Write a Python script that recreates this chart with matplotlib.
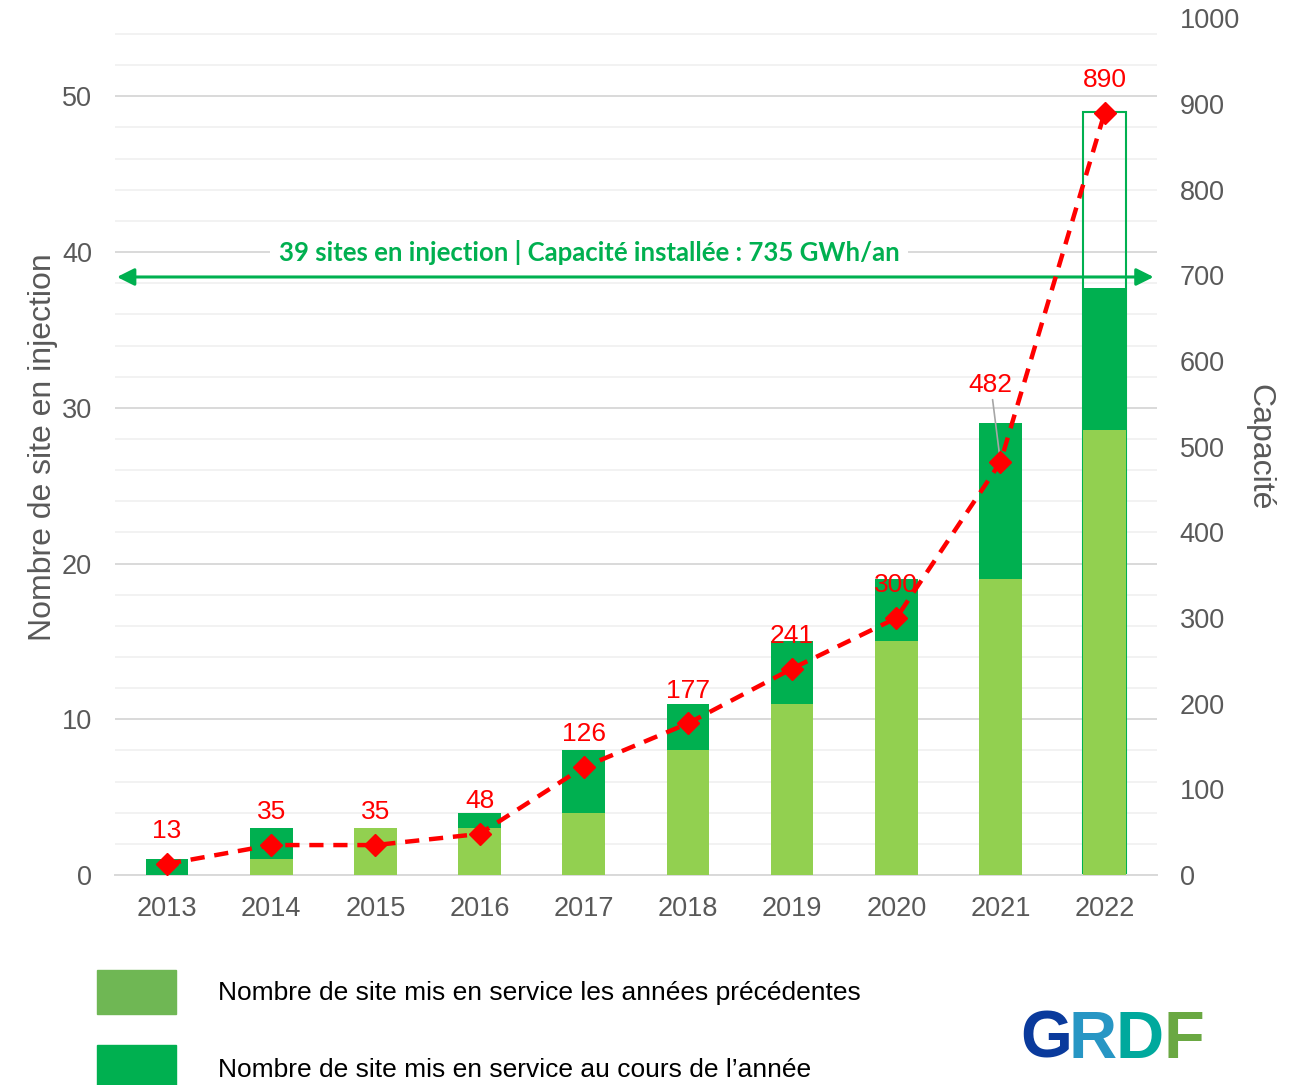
import matplotlib
matplotlib.use("Agg")
import matplotlib.pyplot as plt
import numpy as np
from matplotlib.patches import Rectangle

years = ["2013", "2014", "2015", "2016", "2017", "2018", "2019", "2020", "2021", "2022"]
prev_sites = [0, 1, 3, 3, 4, 8, 11, 15, 19, 28.6]
new_sites = [1, 2, 0, 1, 4, 3, 4, 4, 10, 9.1]
planned_2022 = 49
capacity = [13, 35, 35, 48, 126, 177, 241, 300, 482, 890]

light_green = "#92D050"
dark_green = "#00B050"
grey_txt = "#595959"

plt.rcParams["font.family"] = ["Liberation Sans", "DejaVu Sans"]

fig = plt.figure(figsize=(12.91, 10.85), dpi=100)
ax = fig.add_axes([0.089, 0.1935, 0.807, 0.7895])
x = np.arange(len(years))
w = 0.41

# planned total for the last year, drawn as an empty box
ax.bar(x[-1], planned_2022, w, facecolor="none", edgecolor=dark_green, linewidth=1.5, zorder=2)
ax.bar(x, prev_sites, w, color=light_green, zorder=3)
ax.bar(x, new_sites, w, bottom=prev_sites, color=dark_green, zorder=3)

ax.set_xlim(-0.5, 9.5)
ax.set_ylim(0, 55)
ax.set_yticks(range(0, 51, 10))
ax.set_yticks(range(0, 55, 2), minor=True)
ax.grid(axis="y", which="minor", color="#F0F0F0", linewidth=1.2, zorder=0)
ax.grid(axis="y", which="major", color="#D9D9D9", linewidth=1.4, zorder=0)
ax.set_axisbelow(True)
ax.set_xticks(x)
ax.set_xticklabels(years)
ax.tick_params(axis="both", which="both", length=0, labelsize=19.5, labelcolor=grey_txt)
ax.tick_params(axis="y", pad=16.5)
ax.tick_params(axis="x", pad=15)
for s in ["top", "left", "right"]:
    ax.spines[s].set_visible(False)
ax.spines["bottom"].set_color("#D9D9D9")
ax.spines["bottom"].set_linewidth(1.4)
ax.set_ylabel("Nombre de site en injection", fontsize=23, color=grey_txt, labelpad=3)

# capacity line on the right axis
ax2 = ax.twinx()
ax2.set_ylim(0, 1000)
ax2.set_yticks(range(0, 1001, 100))
ax2.tick_params(axis="y", length=0, labelsize=19.5, labelcolor=grey_txt, pad=16.5)
for s in ax2.spines.values():
    s.set_visible(False)
ax2.plot(x, capacity, color="red", linestyle=(0, (3.2, 2.2)), linewidth=3.2,
         marker="D", markersize=11, markerfacecolor="red", markeredgecolor="red", zorder=5)
ax2.set_ylabel("Capacité", fontsize=23, color=grey_txt, rotation=270, labelpad=25)

for i, v in enumerate(capacity):
    if years[i] == "2021":
        ax2.annotate(str(v), (x[i], v), xytext=(-7, 47), textcoords="offset points",
                     ha="center", va="bottom", fontsize=19, color="red",
                     arrowprops=dict(arrowstyle="-", color="#A6A6A6", lw=1.2,
                                     shrinkA=0, shrinkB=2))
    else:
        ax2.annotate(str(v), (x[i], v), xytext=(0, 15), textcoords="offset points",
                     ha="center", va="bottom", fontsize=19, color="red")

# double arrow with the summary text
arrow_y = 38.4
ax.annotate("", xy=(-0.48, arrow_y), xytext=(9.47, arrow_y),
            arrowprops=dict(arrowstyle="<|-|>", color=dark_green, lw=2.2,
                            mutation_scale=26, shrinkA=0, shrinkB=0), zorder=6)
ax.text(4.05, 40, "39 sites en injection | Capacité installée : 735 GWh/an",
        ha="center", va="center", fontsize=18.5, fontweight="bold", color=dark_green,
        family=["Lato", "DejaVu Sans"],
        bbox=dict(facecolor="white", edgecolor="none", pad=6), zorder=6)

# legend at the bottom
fig.patches.append(Rectangle((97 / 1291, 1 - 1014 / 1085), 79 / 1291, 44 / 1085,
                             transform=fig.transFigure, color="#6FB754"))
fig.patches.append(Rectangle((97 / 1291, 0), 79 / 1291, 40 / 1085,
                             transform=fig.transFigure, color=dark_green))
fig.text(218 / 1291, 1 - 993 / 1085, "Nombre de site mis en service les années précédentes",
         fontsize=19, va="center", ha="left", color="black")
fig.text(218 / 1291, 1 - 1070 / 1085, "Nombre de site mis en service au cours de l’année",
         fontsize=19, va="center", ha="left", color="black")

# GRDF logo
logo = [("G", "#0A3A9C", 1046), ("R", "#2796C4", 1093), ("D", "#00A99D", 1140), ("F", "#6AA842", 1184)]
for letter, col, px in logo:
    fig.text(px / 1291, 1 - 1041 / 1085, letter, fontsize=48, fontweight="heavy",
             color=col, ha="center", va="center")

fig.savefig("out.png", dpi=100)
